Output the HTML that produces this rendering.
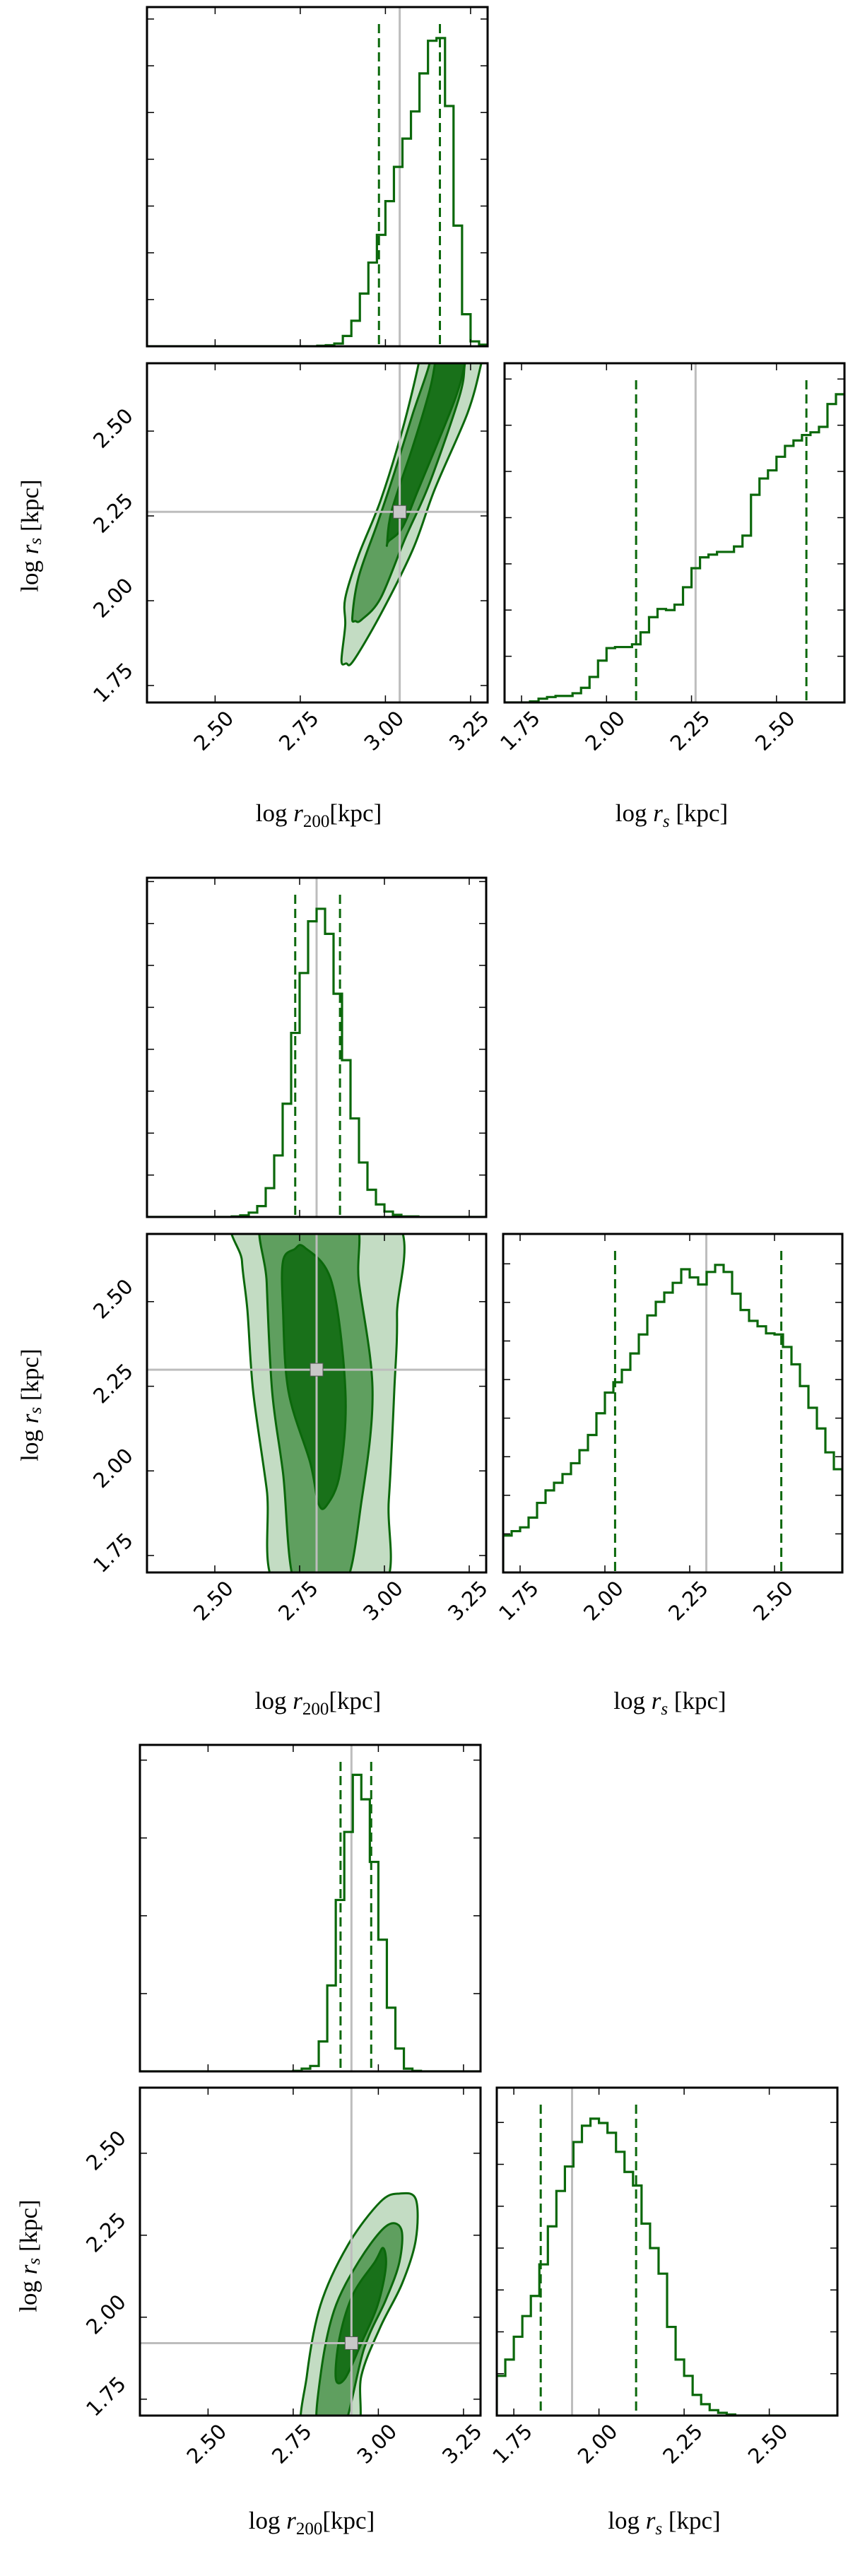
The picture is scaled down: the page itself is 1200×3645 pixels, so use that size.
<!DOCTYPE html>
<html><head><meta charset="utf-8">
<style>
html,body{margin:0;padding:0;background:#fff;}
svg{display:block;}
.tick{font-family:"DejaVu Sans","Liberation Sans",sans-serif;font-size:29px;fill:#000;}
.axl{font-family:"Liberation Serif",serif;font-size:35px;fill:#000;}
</style></head>
<body>
<svg id="chart" width="1200" height="3645" viewBox="0 0 1200 3645" xmlns="http://www.w3.org/2000/svg"></svg>
<script>
// ---------- DATA ----------
const xTicks200 = [2.50, 2.75, 3.00, 3.25];
const xTicksRs = [1.75, 2.00, 2.25, 2.50];
const yTicksRs = [1.75, 2.00, 2.25, 2.50];
const tickLabels = ["1.75","2.00","2.25","2.50","2.75","3.00","3.25"];

// Panel 1
const p1TopHist = [0,0,0,0,0,0,0,0,0,0,0,0,0,0,0,0,0,0,0,0,1,2,5,19,47,97,154,205,267,330,382,432,502,562,567,442,222,59,9,3];
const p1RightHist = [0,0,0,2,7,10,12,12,17,27,47,77,100,102,102,107,129,157,172,170,180,212,247,267,272,277,277,287,307,382,412,427,452,472,482,492,497,507,549,567];
const p1DashTop = [2.981, 3.160];
const p1DashRight = [2.087, 2.588];
const p1Best = [3.042, 2.262];
const p1Outer = [[2.871,1.823],[2.882,1.927],[2.882,2.007],[2.922,2.136],[2.986,2.296],[3.050,2.504],[3.097,2.697],[3.10,2.75],[3.29,2.75],[3.281,2.697],[3.241,2.553],[3.145,2.329],[3.081,2.152],[2.986,1.960],[2.906,1.823],[2.885,1.815]];
const p1Mid = [[2.903,1.952],[2.922,2.072],[2.978,2.232],[3.026,2.376],[3.081,2.553],[3.129,2.697],[3.13,2.75],[3.24,2.75],[3.233,2.697],[3.217,2.601],[3.129,2.345],[3.058,2.184],[2.986,2.008],[2.930,1.944],[2.912,1.940]];
const p1Inner = [[3.005,2.168],[3.018,2.264],[3.081,2.456],[3.129,2.617],[3.145,2.697],[3.15,2.75],[3.24,2.75],[3.233,2.697],[3.201,2.585],[3.097,2.329],[3.050,2.216],[3.010,2.176]];

// Panel 2
const p2TopHist = [0,0,0,0,0,0,0,0,0,0,1,3,8,20,53,113,208,338,448,543,566,520,410,288,181,100,50,23,10,4,1,1,0,0,0,0,0,0,0,0];
const p2RightHist = [68,76,83,101,128,151,165,181,201,225,253,293,331,350,373,403,438,473,498,515,533,558,543,530,553,566,553,513,483,463,453,440,438,415,383,343,303,265,221,190];
const p2DashTop = [2.737, 2.869];
const p2DashRight = [2.030, 2.520];
const p2Best = [2.800, 2.299];
const p2Outer = [[2.580,2.75],[2.580,2.620],[2.596,2.475],[2.613,2.235],[2.653,1.946],[2.688,1.65],[2.989,1.65],[3.013,1.914],[3.029,2.235],[3.037,2.459],[3.021,2.75]];
const p2Mid = [[2.649,2.75],[2.653,2.556],[2.669,2.235],[2.701,1.994],[2.741,1.65],[2.877,1.65],[2.933,1.914],[2.965,2.235],[2.925,2.556],[2.901,2.75]];
const p2Inner = [[2.701,2.620],[2.735,2.655],[2.765,2.660],[2.845,2.556],[2.885,2.235],[2.869,1.994],[2.829,1.897],[2.805,1.905],[2.781,2.025],[2.717,2.235],[2.701,2.475]];

// Panel 3
const p3TopHist = [0,0,0,0,0,0,0,0,0,0,0,0,0,0,0,0,0,0,1,5,10,55,158,315,440,545,500,385,242,117,42,5,1,0,0,0,0,0,0,0];
const p3RightHist = [73,103,145,183,220,278,348,413,458,503,533,546,538,520,485,448,423,353,308,261,163,103,73,38,21,10,5,2,0,0,0,0,0,0,0,0,0,0,0,0];
const p3DashTop = [2.889, 2.979];
const p3DashRight = [1.829, 2.109];
const p3Best = [2.921, 1.921];
const p3Outer = [[2.782,1.65],[2.790,1.821],[2.830,2.037],[2.910,2.219],[3.006,2.352],[3.062,2.377],[3.110,2.360],[3.110,2.236],[3.070,2.103],[3.006,1.970],[2.950,1.821],[2.934,1.65]];
const p3Mid = [[2.822,1.65],[2.830,1.821],[2.870,2.020],[2.942,2.169],[3.022,2.277],[3.067,2.269],[3.062,2.169],[3.022,2.053],[2.958,1.904],[2.894,1.65]];
const p3Inner = [[2.875,1.813],[2.886,1.937],[2.926,2.070],[2.990,2.169],[3.014,2.211],[3.022,2.153],[2.998,2.037],[2.950,1.921],[2.902,1.813]];

// ---------- LAYOUT ----------
const panels = [
  {id:1, top:{x:208,y:10,w:482,h:480}, main:{x:208,y:514,w:482,h:480}, right:{x:714,y:514,w:481,h:480},
   topHist:p1TopHist, rightHist:p1RightHist, topMax:624, rightMax:624, topStep:86, rightStep:85,
   dashTop:p1DashTop, dashRight:p1DashRight, best:p1Best, outer:p1Outer, mid:p1Mid, inner:p1Inner,
   xlabY:1162, ylab:[42,758]},
  {id:2, top:{x:208,y:1242,w:480,h:480}, main:{x:208,y:1746,w:480,h:479}, right:{x:712,y:1746,w:480,h:479},
   topHist:p2TopHist, rightHist:p2RightHist, topMax:623, rightMax:623, topStep:77, rightStep:71,
   dashTop:p2DashTop, dashRight:p2DashRight, best:p2Best, outer:p2Outer, mid:p2Mid, inner:p2Inner,
   xlabY:2418, ylab:[42,1988]},
  {id:3, top:{x:198,y:2469,w:482,h:462}, main:{x:198,y:2954,w:482,h:464}, right:{x:703,y:2954,w:482,h:464},
   topHist:p3TopHist, rightHist:p3RightHist, topMax:600, rightMax:603, topStep:143, rightStep:77,
   dashTop:p3DashTop, dashRight:p3DashRight, best:p3Best, outer:p3Outer, mid:p3Mid, inner:p3Inner,
   xlabY:3578, ylab:[40,3192]}
];

const NS = "http://www.w3.org/2000/svg";
const svg = document.getElementById("chart");
const defs = document.createElementNS(NS,"defs");
svg.appendChild(defs);
function mk(tag, attrs, parent){
  const e = document.createElementNS(NS, tag);
  for (const k in attrs) e.setAttribute(k, attrs[k]);
  (parent||svg).appendChild(e);
  return e;
}
function scale(d0,d1,r0,r1){ return v => r0 + (v-d0)/(d1-d0)*(r1-r0); }
const GREEN = "#0b680b";

function clip(box, id){
  const cp = mk("clipPath",{id:id},defs);
  mk("rect",{x:box.x,y:box.y,width:box.w,height:box.h},cp);
  return "url(#"+id+")";
}

function frame(g, box, name){
  const r = mk("rect",{x:box.x,y:box.y,width:box.w,height:box.h,fill:"none",stroke:"#000","stroke-width":3},g);
  
  
}

function xTicksDraw(g, box, sx, vals, labels){
  vals.forEach(v=>{
    const x = sx(v);
    const t1 = mk("line",{x1:x,y1:box.y+box.h,x2:x,y2:box.y+box.h-10,stroke:"#000","stroke-width":1.5},g);
    
    
    const t2 = mk("line",{x1:x,y1:box.y,x2:x,y2:box.y+10,stroke:"#000","stroke-width":1.5},g);
    
    
    if (labels){
      const cx = x-2, cy = box.y+box.h+40;
      const tx = mk("text",{x:cx,y:cy,"text-anchor":"middle","dominant-baseline":"central",class:"tick",transform:"rotate(-45 "+cx+" "+cy+")"},g);
      tx.textContent = tickLabels[tickLabels.indexOf(v.toFixed(2))];
      
      
    }
  });
}
function yTicksDraw(g, box, sy, vals, labels){
  vals.forEach(v=>{
    const y = sy(v);
    const t1 = mk("line",{x1:box.x,y1:y,x2:box.x+10,y2:y,stroke:"#000","stroke-width":1.5},g);
    
    
    const t2 = mk("line",{x1:box.x+box.w,y1:y,x2:box.x+box.w-10,y2:y,stroke:"#000","stroke-width":1.5},g);
    
    
    if (labels){
      const cx = box.x-48, cy = y-4;
      const tx = mk("text",{x:cx,y:cy,"text-anchor":"middle","dominant-baseline":"central",class:"tick",transform:"rotate(-45 "+cx+" "+cy+")"},g);
      tx.textContent = tickLabels[tickLabels.indexOf(v.toFixed(2))];
      
      
    }
  });
}

function histPath(vals, lo, hi, sx, sy){
  const n = vals.length, w = (hi-lo)/n;
  let d = "M"+sx(lo)+","+sy(0);
  vals.forEach((v,i)=>{
    d += " L"+sx(lo+i*w)+","+sy(v)+" L"+sx(lo+(i+1)*w)+","+sy(v);
  });
  d += " L"+sx(hi)+","+sy(0);
  return d;
}
// closed Catmull-Rom smoothing
function polyPath(pts, sx, sy){
  const P = pts.map(p=>[sx(p[0]), sy(p[1])]);
  const n = P.length;
  let d = "M"+P[0][0].toFixed(1)+","+P[0][1].toFixed(1);
  for (let i=0;i<n;i++){
    const p0=P[(i-1+n)%n], p1=P[i], p2=P[(i+1)%n], p3=P[(i+2)%n];
    const c1=[p1[0]+(p2[0]-p0[0])/6, p1[1]+(p2[1]-p0[1])/6];
    const c2=[p2[0]-(p3[0]-p1[0])/6, p2[1]-(p3[1]-p1[1])/6];
    d += " C"+c1[0].toFixed(1)+","+c1[1].toFixed(1)+" "+c2[0].toFixed(1)+","+c2[1].toFixed(1)+" "+p2[0].toFixed(1)+","+p2[1].toFixed(1);
  }
  return d+" Z";
}

panels.forEach(P=>{
  const g = mk("g",{});
  
  

  // ---- top histogram (log r200) ----
  const T = P.top;
  const txs = scale(2.3,3.3,T.x,T.x+T.w), tys = scale(0,P.topMax,T.y+T.h,T.y);
  const gt = mk("g",{"clip-path":clip(T,"ct"+P.id)},g);
  
  
  const gl = mk("line",{x1:txs(P.best[0]),y1:T.y,x2:txs(P.best[0]),y2:T.y+T.h,stroke:"#bdbdbd","stroke-width":3},gt);
  
  
  P.dashTop.forEach(v=>{
    const l = mk("line",{x1:txs(v),y1:T.y+24,x2:txs(v),y2:T.y+T.h,stroke:GREEN,"stroke-width":3,"stroke-dasharray":"13,7"},gt);
    
    
  });
  const hp = mk("path",{d:histPath(P.topHist,2.3,3.3,txs,tys),fill:"none",stroke:GREEN,"stroke-width":3.2},gt);
  
  
  xTicksDraw(g,T,txs,xTicks200,false);
  const ty = [];
  for (let v=P.topStep; v<P.topMax; v+=P.topStep) ty.push(v);
  yTicksDraw(g,T,tys,ty,false);
  frame(g,T,'r200-histogram-frame');

  // ---- 2D contour ----
  const M = P.main;
  const mxs = scale(2.3,3.3,M.x,M.x+M.w), mys = scale(1.7,2.7,M.y+M.h,M.y);
  const gm = mk("g",{"clip-path":clip(M,"cm"+P.id)},g);
  
  
  [[P.outer,"#c3dcc3","contour-outer"],[P.mid,"#5f9f5f","contour-middle"],[P.inner,"#19711a","contour-inner"]].forEach(c=>{
    const p = mk("path",{d:polyPath(c[0],mxs,mys),fill:c[1],stroke:GREEN,"stroke-width":3,"stroke-linejoin":"round"},gm);
    
    
  });
  const vl = mk("line",{x1:mxs(P.best[0]),y1:M.y,x2:mxs(P.best[0]),y2:M.y+M.h,stroke:"#bdbdbd","stroke-width":3},gm);
  
  
  const hl = mk("line",{x1:M.x,y1:mys(P.best[1]),x2:M.x+M.w,y2:mys(P.best[1]),stroke:"#bdbdbd","stroke-width":3},gm);
  
  
  const mk1 = mk("rect",{x:mxs(P.best[0])-9,y:mys(P.best[1])-9,width:18,height:18,fill:"#c8c8c8",stroke:"#555","stroke-width":1},gm);
  
  
  xTicksDraw(g,M,mxs,xTicks200,true);
  yTicksDraw(g,M,mys,yTicksRs,true);
  frame(g,M,'contour-frame');

  // ---- right histogram (log rs) ----
  const R = P.right;
  const rxs = scale(1.7,2.7,R.x,R.x+R.w), rys = scale(0,P.rightMax,R.y+R.h,R.y);
  const gr = mk("g",{"clip-path":clip(R,"cr"+P.id)},g);
  
  
  const gl2 = mk("line",{x1:rxs(P.best[1]),y1:R.y,x2:rxs(P.best[1]),y2:R.y+R.h,stroke:"#bdbdbd","stroke-width":3},gr);
  
  
  P.dashRight.forEach(v=>{
    const l = mk("line",{x1:rxs(v),y1:R.y+24,x2:rxs(v),y2:R.y+R.h,stroke:GREEN,"stroke-width":3,"stroke-dasharray":"13,7"},gr);
    
    
  });
  const hp2 = mk("path",{d:histPath(P.rightHist,1.7,2.7,rxs,rys),fill:"none",stroke:GREEN,"stroke-width":3.2},gr);
  
  
  xTicksDraw(g,R,rxs,xTicksRs,true);
  const ry = [];
  for (let v=P.rightStep; v<P.rightMax; v+=P.rightStep) ry.push(v);
  yTicksDraw(g,R,rys,ry,false);
  frame(g,R,'rs-histogram-frame');

  // ---- axis labels ----
  const xl1 = mk("text",{x:M.x+M.w/2+2,y:P.xlabY,"text-anchor":"middle",class:"axl"},g);
  xl1.innerHTML = 'log <tspan font-style="italic">r</tspan><tspan font-size="25" dy="8">200</tspan><tspan dy="-8">[kpc]</tspan>';
  
  
  const xl2 = mk("text",{x:R.x+R.w/2-4,y:P.xlabY,"text-anchor":"middle",class:"axl"},g);
  xl2.innerHTML = 'log <tspan font-style="italic">r</tspan><tspan font-size="25" font-style="italic" dy="8">s</tspan><tspan dy="-8"> [kpc]</tspan>';
  
  
  const yl = mk("text",{x:P.ylab[0],y:P.ylab[1],"text-anchor":"middle","dominant-baseline":"central",class:"axl",transform:"rotate(-90 "+P.ylab[0]+" "+P.ylab[1]+")"},g);
  yl.innerHTML = 'log <tspan font-style="italic">r</tspan><tspan font-size="25" font-style="italic" dy="8">s</tspan><tspan dy="-8"> [kpc]</tspan>';
  
  
});
</script>
</body></html>
